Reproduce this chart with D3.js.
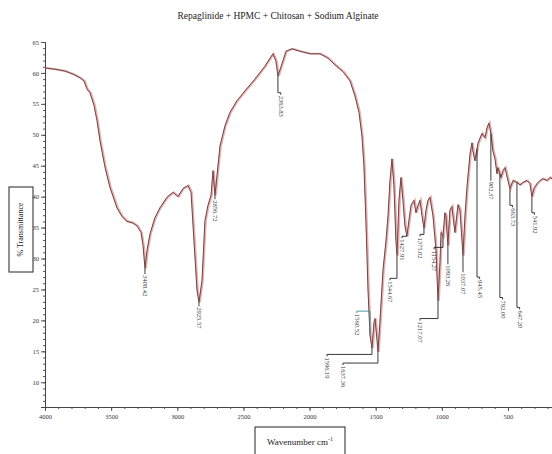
<!DOCTYPE html>
<html>
<head>
<meta charset="utf-8">
<script src="https://cdn.jsdelivr.net/npm/d3@7"></script>
<style>
  body { margin: 0; background: #fff; }
  text { font-family: 'Liberation Serif', 'DejaVu Serif', serif; }
</style>
</head>
<body>
<div id="chart"></div>
<script>
// spectrum (wavenumber cm-1, % transmittance)
var wavenumbers = [4000, 3924, 3849, 3788, 3735, 3705, 3683, 3660, 3630, 3607, 3584, 3546, 3509, 3456, 3418, 3380, 3342, 3305, 3274, 3259,
  3244, 3229, 3206, 3169, 3131, 3078, 3032, 2995, 2957, 2919, 2896, 2874, 2851, 2836, 2813, 2791, 2768, 2745, 2730, 2715,
  2700, 2677, 2639, 2602, 2549, 2488, 2413, 2337, 2277, 2254, 2239, 2216, 2178, 2133, 2072, 1997, 1921, 1861, 1808, 1747,
  1694, 1657, 1626, 1604, 1589, 1574, 1558, 1543, 1528, 1513, 1505, 1490, 1483, 1468, 1445, 1422, 1407, 1392, 1377, 1362,
  1347, 1339, 1324, 1309, 1294, 1279, 1264, 1249, 1233, 1211, 1196, 1180, 1165, 1150, 1135, 1120, 1105, 1090, 1067, 1044,
  1029, 1014, 1006, 991, 977, 969, 954, 939, 924, 901, 878, 863, 840, 825, 810, 787, 772, 765, 750, 727,
  697, 674, 659, 644, 629, 614, 598, 583, 576, 553, 538, 523, 500, 485, 462, 432, 409, 387, 356, 334,
  319, 304, 281, 258, 236, 205, 183, 167]
var transmittance = [60.8, 60.6, 60.3, 59.8, 59.2, 58.7, 57.4, 56.8, 54.8, 52.3, 49.0, 44.7, 41.5, 38.2, 36.8, 36.0, 35.8, 35.3, 34.2, 32.1,
  28.4, 31.3, 34.0, 36.6, 38.2, 39.9, 40.7, 40.0, 41.3, 41.8, 40.7, 32.9, 24.9, 22.9, 26.5, 36.1, 38.6, 40.2, 44.2, 40.2,
  43.4, 48.2, 51.5, 53.6, 55.5, 57.1, 59.0, 61.1, 63.1, 61.9, 59.5, 61.0, 63.5, 63.9, 63.5, 63.1, 63.1, 62.4, 61.3, 60.2,
  58.7, 56.3, 53.6, 49.8, 45.0, 36.1, 24.9, 17.6, 15.5, 19.7, 20.3, 16.8, 14.9, 19.7, 28.1, 32.9, 36.9, 42.6, 46.1, 41.8,
  32.9, 30.5, 39.4, 43.1, 39.4, 35.3, 33.6, 36.1, 38.6, 39.4, 37.4, 38.6, 39.4, 36.9, 34.9, 37.8, 39.4, 39.9, 36.9, 31.3,
  23.2, 29.4, 34.2, 33.6, 37.4, 36.9, 32.1, 37.8, 38.4, 34.2, 38.7, 37.8, 30.5, 36.9, 41.5, 46.9, 48.7, 47.4, 45.8, 48.6,
  50.2, 49.5, 51.1, 51.9, 50.2, 47.4, 46.1, 43.7, 44.7, 43.1, 44.2, 44.7, 42.6, 41.3, 42.6, 42.3, 41.9, 42.3, 42.6, 42.1,
  40.0, 41.3, 42.1, 42.6, 42.9, 42.6, 43.1, 42.9]

// peak labels: where the leader leaves the curve, where it stops, where the text sits
var peakText = ['3408.42', '2925.57', '2856.72', '2363.83', '1596.19', '1637.36', '1560.52', '1544.67', '1427.91', '1375.02',
  '1217.07', '1154.27', '1093.26', '1037.07', '945.45', '902.37', '792.00', '663.73', '647.20', '541.92']
var peakWn = [3244, 2836, 2715, 2239, 1528, 1483, 1543, 1339, 1264, 1135, 1029, 991, 954, 840, 734, 629, 561, 485, 432, 319]
var leaderEnd = [27.8, 22.6, 39.9, 56.8, 14.5, 13.1, 21.5, 26.8, 33.6, 33.9, 20.3, 31.8, 29.4, 28.1, 27.0, 42.9, 23.7, 38.6, 22.1, 37.4]
var labelWn = [3244, 2836, 2715, 2218, 1868, 1747, 1642, 1392, 1301, 1165, 1165, 1059, 954, 840, 714, 629, 541, 466, 412, 300]

var xMajor = [4000, 3500, 3000, 2500, 2000, 1500, 1000, 500]
var yMajor = [10, 15, 20, 25, 30, 35, 40, 45, 50, 55, 60, 65]

var W = 552, H = 454
var svg = d3.select('#chart').append('svg')
  .attr('width', W).attr('height', H)

var x = d3.scaleLinear().domain([4000, 167]).range([45, 552])
var y = d3.scaleLinear().domain([6, 65]).range([407, 42])

// title
svg.append('text')
  .attr('x', 278).attr('y', 19)
  .attr('text-anchor', 'middle')
  .attr('font-size', 9.5)
  .attr('fill', '#222')
  .text('Repaglinide + HPMC + Chitosan + Sodium Alginate')

// axes
var yAxis = svg.append('g').attr('transform', 'translate(45,0)')
  .call(d3.axisLeft(y).tickValues(yMajor).tickSize(4).tickFormat(d3.format('d')))
var yMinor = svg.append('g').attr('transform', 'translate(45,0)')
  .call(d3.axisLeft(y).tickValues(d3.range(7, 66, 1)).tickSize(2).tickFormat(''))
var xAxis = svg.append('g').attr('transform', 'translate(0,407)')
  .call(d3.axisBottom(x).tickValues(xMajor).tickSize(4).tickFormat(d3.format('d')))
var xMinor = svg.append('g').attr('transform', 'translate(0,407)')
  .call(d3.axisBottom(x).tickValues(d3.range(3900, 167, -100)).tickSize(2).tickFormat(''))

svg.selectAll('.domain').attr('stroke', '#444')
svg.selectAll('.tick line').attr('stroke', '#555')
svg.selectAll('.tick text')
  .attr('font-family', "'Liberation Serif', serif")
  .attr('font-size', 6.5)
  .attr('fill', '#333')
yAxis.selectAll('.tick text').attr('x', -6)
xAxis.selectAll('.tick text').attr('y', 7)

// axis titles in boxes
svg.append('rect')
  .attr('x', 9).attr('y', 187).attr('width', 24).attr('height', 85)
  .attr('fill', 'none').attr('stroke', '#222').attr('stroke-width', 1)
svg.append('text')
  .attr('transform', 'translate(23,229.5) rotate(-90)')
  .attr('text-anchor', 'middle')
  .attr('font-size', 8)
  .attr('fill', '#222')
  .text('% Transmittance')

svg.append('rect')
  .attr('x', 255).attr('y', 427).attr('width', 90).attr('height', 32)
  .attr('fill', 'none').attr('stroke', '#222').attr('stroke-width', 1)
svg.append('text')
  .attr('x', 300).attr('y', 445)
  .attr('text-anchor', 'middle')
  .attr('font-size', 9)
  .attr('fill', '#222')
  .text('Wavenumber cm')
  .append('tspan').attr('dy', -4).attr('font-size', 6).text('-1')

// the spectrum
var pts = wavenumbers.map(function(w, i) { return [w, transmittance[i]] })
var line = d3.line().x(function(d) { return x(d[0]) }).y(function(d) { return y(d[1]) })

svg.append('path').datum(pts)
  .attr('d', line)
  .attr('fill', 'none')
  .attr('stroke', '#eab0b0')
  .attr('stroke-width', 2.2)
  .attr('transform', 'translate(0.8,0)')
svg.append('path').datum(pts)
  .attr('d', line)
  .attr('fill', 'none')
  .attr('stroke', '#6e4646')
  .attr('stroke-width', 1)

// value of the curve at a wavenumber
var asc = pts.slice().reverse()
function curveAt(w) {
  var i = d3.bisector(function(d) { return d[0] }).left(asc, w)
  if (i <= 0) return asc[0][1]
  if (i >= asc.length) return asc[asc.length - 1][1]
  var a = asc[i - 1], b = asc[i]
  return a[1] + (b[1] - a[1]) * (w - a[0]) / (b[0] - a[0])
}

// leaders and labels
peakWn.forEach(function(w, i) {
  var x0 = x(w), y0 = y(curveAt(w)), y1 = y(leaderEnd[i]), x1 = x(labelWn[i])
  svg.append('path')
    .attr('d', 'M' + x0 + ',' + y0 + 'V' + y1 + 'H' + x1 + 'v2')
    .attr('fill', 'none')
    .attr('stroke', i == 6 ? '#3a8f9a' : '#222')
    .attr('stroke-width', 0.9)
  svg.append('text')
    .attr('transform', 'translate(' + (x1 + 0.5) + ',' + (y1 + 3) + ') rotate(90)')
    .attr('dy', '0.35em')
    .attr('font-size', 6.5)
    .attr('fill', '#333')
    .text(peakText[i])
})
</script>
</body>
</html>
